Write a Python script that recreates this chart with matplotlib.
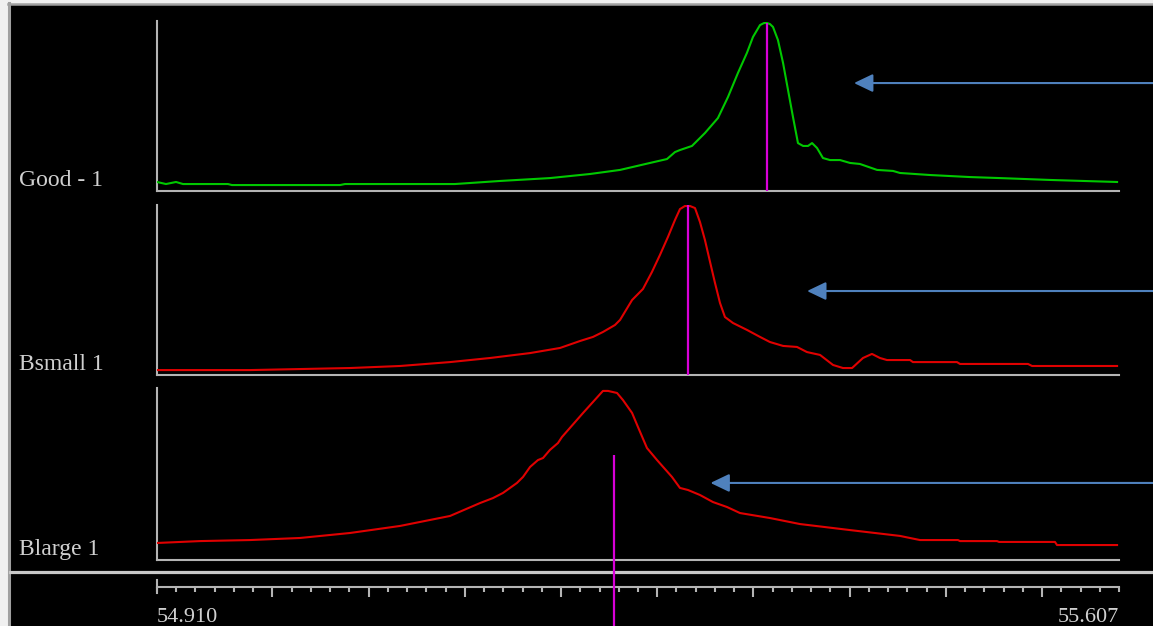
import numpy as np
import matplotlib.pyplot as plt
from matplotlib.patches import Rectangle
from matplotlib.lines import Line2D

# m/z window shown on the common axis
mz_min, mz_max = 54.910, 55.607

labels = ['Good - 1', 'Bsmall 1', 'Blarge 1']
colors = ['#00c800', '#e00000', '#e00000']

# profile of each sample: m/z and relative intensity (%)
good_mz = [54.9100, 54.9165, 54.9238, 54.9288, 54.9614, 54.9643, 55.0426, 55.0462,
           55.1259, 55.1585, 55.1947, 55.2237, 55.2455, 55.2672, 55.2795, 55.2853,
           55.2889, 55.2976, 55.3070, 55.3164, 55.3237, 55.3309, 55.3374, 55.3418,
           55.3469, 55.3498, 55.3520, 55.3541, 55.3563, 55.3599, 55.3636, 55.3672,
           55.3708, 55.3744, 55.3781, 55.3817, 55.3846, 55.3882, 55.3925, 55.3976,
           55.4049, 55.4121, 55.4193, 55.4317, 55.4433, 55.4483, 55.4701, 55.4991,
           55.5208, 55.5570, 55.6056]
good_int = [5.3, 4.1, 5.3, 4.1, 4.1, 3.5, 3.5, 4.1,
            4.1, 5.9, 7.6, 10.0, 12.4, 16.5, 18.8, 22.9,
            24.1, 26.5, 34.1, 42.9, 55.3, 69.4, 81.2, 90.6,
            97.6, 98.8, 98.8, 98.2, 96.5, 88.8, 75.3, 59.4,
            43.5, 28.2, 26.5, 26.5, 28.2, 25.3, 19.4, 18.2,
            18.2, 16.5, 15.9, 12.4, 11.8, 10.6, 9.4, 8.2,
            7.6, 6.5, 5.3]

bsmall_mz = [54.9100, 54.9774, 55.0136, 55.0498, 55.0861, 55.1223, 55.1513, 55.1803,
             55.2020, 55.2165, 55.2259, 55.2331, 55.2418, 55.2455, 55.2542, 55.2621,
             55.2686, 55.2744, 55.2802, 55.2853, 55.2889, 55.2925, 55.2962, 55.2998,
             55.3034, 55.3070, 55.3107, 55.3143, 55.3179, 55.3215, 55.3273, 55.3375,
             55.3469, 55.3541, 55.3636, 55.3737, 55.3809, 55.3904, 55.3998, 55.4070,
             55.4136, 55.4215, 55.4280, 55.4338, 55.4389, 55.4556, 55.4577, 55.4896,
             55.4918, 55.5411, 55.5440, 55.6056]
bsmall_int = [2.9, 2.9, 3.5, 4.1, 5.3, 7.6, 10.0, 12.9,
              15.9, 20.0, 22.4, 25.3, 29.4, 32.4, 44.1, 50.6,
              60.6, 70.6, 81.2, 91.2, 97.6, 99.4, 99.4, 98.2,
              90.0, 79.4, 66.5, 54.1, 42.4, 34.1, 30.6, 26.5,
              22.4, 19.4, 17.1, 16.5, 13.5, 11.8, 5.9, 4.1,
              4.1, 10.0, 12.4, 10.0, 8.8, 8.8, 7.6, 7.6,
              6.5, 6.5, 5.3, 5.3]

blarge_mz = [54.9100, 54.9412, 54.9774, 55.0136, 55.0498, 55.0861, 55.1223, 55.1440,
             55.1534, 55.1607, 55.1708, 55.1752, 55.1803, 55.1860, 55.1897, 55.1947,
             55.2005, 55.2034, 55.2129, 55.2187, 55.2259, 55.2331, 55.2368, 55.2433,
             55.2476, 55.2542, 55.2585, 55.2650, 55.2723, 55.2831, 55.2889, 55.2947,
             55.3034, 55.3128, 55.3230, 55.3324, 55.3541, 55.3759, 55.4121, 55.4483,
             55.4628, 55.4903, 55.4918, 55.5186, 55.5201, 55.5606, 55.5621, 55.6056]
blarge_int = [9.9, 11.0, 11.6, 12.8, 15.7, 19.8, 25.6, 33.1,
              36.0, 39.0, 44.8, 48.3, 54.1, 58.1, 59.3, 64.0,
              68.0, 71.5, 80.2, 85.5, 91.9, 98.3, 98.3, 97.1,
              93.0, 85.5, 77.3, 65.1, 58.1, 48.3, 41.9, 40.7,
              37.8, 33.7, 30.8, 27.3, 24.4, 20.9, 17.4, 14.0,
              11.6, 11.6, 11.0, 11.0, 10.5, 10.5, 8.7, 8.7]

profiles = [(good_mz, good_int), (bsmall_mz, bsmall_int), (blarge_mz, blarge_int)]

# centroid (stick) position and height per sample
centroid_mz = [55.352, 55.295, 55.241]
centroid_top = [98.8, 100.0, 61.0]

# arrow tips pointing at the peak tails
arrow_mz = [55.415, 55.381, 55.311]
arrow_int = [63.5, 49.4, 44.8]

W, H = 1153, 626
fig = plt.figure(figsize=(W / 100, H / 100), dpi=100, facecolor='#f0f0f0')


def px_rect(x0, ytop, x1, ybot):
    return [x0 / W, 1 - ybot / H, (x1 - x0) / W, (ybot - ytop) / H]


gray = '#b4b4b4'
# black window with a grey frame on the left and top
fig.patches.append(Rectangle((10 / W, 0), 1, 1 - 5 / H, transform=fig.transFigure,
                             facecolor='black', edgecolor='none', zorder=-3))
fig.lines.append(Line2D([8.5 / W, 8.5 / W], [0, 1 - 3 / H], transform=fig.transFigure,
                        color='#a0a0a0', lw=2.2, zorder=-2))
fig.lines.append(Line2D([8 / W, 1], [1 - 4 / H, 1 - 4 / H], transform=fig.transFigure,
                        color='#a0a0a0', lw=1.8, zorder=-2))
# separator above the m/z scale
fig.lines.append(Line2D([10 / W, 1], [1 - 572 / H, 1 - 572 / H], transform=fig.transFigure,
                        color='#c8c8c8', lw=2.3, zorder=-2))

# common m/z scale
axt = fig.add_axes(px_rect(157, 587, 1119, 626))
axt.set_facecolor('none')
axt.set_xlim(mz_min, mz_max)
axt.set_ylim(0, 1)
for s in ['left', 'right', 'bottom']:
    axt.spines[s].set_visible(False)
axt.spines['top'].set_color(gray)
axt.spines['top'].set_linewidth(1.5)
step = (mz_max - mz_min) / 50
minor = mz_min + step * np.arange(51)
axt.set_xticks(minor[6::5])
axt.set_xticks(minor, minor=True)
axt.set_yticks([])
axt.xaxis.set_ticks_position('top')
axt.tick_params(which='both', direction='in', colors=gray, width=1.5,
                labeltop=False, labelbottom=False)
axt.tick_params(which='major', length=7.2)
axt.tick_params(which='minor', length=3.6)
tr = axt.get_xaxis_transform()
axt.plot([mz_min, mz_min], [1 - 6 / 39, 1 + 7 / 39], transform=tr, color=gray,
         lw=1.5, clip_on=False)
axt.text(mz_min, 4 / 39, '%.3f' % mz_min, transform=tr, ha='left', va='baseline',
         color='#d0d0d0', fontsize=16, family='Liberation Serif')
axt.text(mz_max, 4 / 39, '%.3f' % mz_max, transform=tr, ha='right', va='baseline',
         color='#d0d0d0', fontsize=16, family='Liberation Serif')

panel_px = [(21, 191), (205, 375), (388, 560)]
for i, (ytop, ybot) in enumerate(panel_px):
    ax = fig.add_axes(px_rect(157, ytop, 1119, ybot))
    ax.set_facecolor('none')
    ax.set_xlim(mz_min, mz_max)
    ax.set_ylim(0, 100)
    for s in ['top', 'right']:
        ax.spines[s].set_visible(False)
    for s in ['left', 'bottom']:
        ax.spines[s].set_color(gray)
        ax.spines[s].set_linewidth(1.5)
    ax.set_xticks([])
    ax.set_yticks([])

    mz, inten = profiles[i]
    ax.plot(mz, inten, color=colors[i], lw=1.5, zorder=3)

    # centroid stick; the last one runs down past the scale
    ymin = 0 if i < 2 else -45
    ax.vlines(centroid_mz[i], ymin, centroid_top[i], color='#d800d8', lw=1.6,
              zorder=4, clip_on=False)

    ax.annotate('', xy=(arrow_mz[i], arrow_int[i]), xycoords='data',
                xytext=(1.0, arrow_int[i]), textcoords=('figure fraction', 'data'),
                arrowprops=dict(arrowstyle='-|>,head_length=1.15,head_width=0.55',
                                color='#4f81bd', lw=1.5, shrinkA=0, shrinkB=0),
                annotation_clip=False)

    fig.text(19 / W, 1 - (ybot - 5) / H, labels[i], ha='left', va='baseline',
             color='#d0d0d0', fontsize=17, family='Liberation Serif')

fig.savefig('out.png', dpi=100, facecolor=fig.get_facecolor())
